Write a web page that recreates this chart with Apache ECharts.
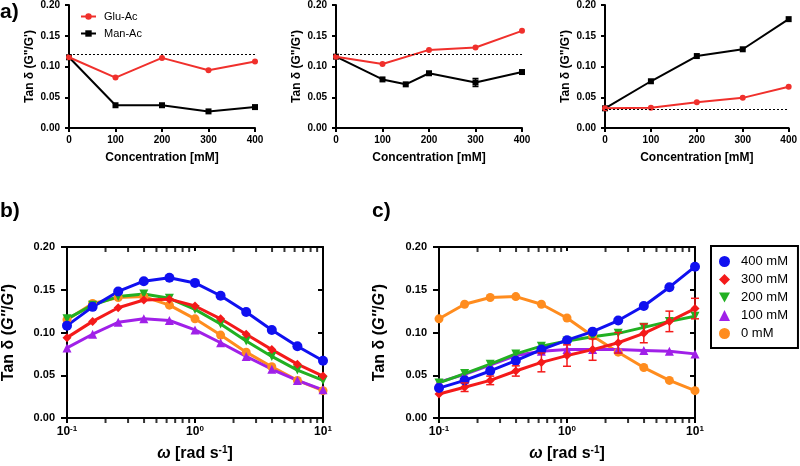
<!DOCTYPE html>
<html>
<head>
<meta charset="utf-8">
<script src="https://cdn.jsdelivr.net/npm/echarts@6/dist/echarts.min.js"></script>
<style>
html,body{margin:0;padding:0;background:#fff;}
#main{width:800px;height:466px;}
</style>
</head>
<body>
<div id="main"></div>
<script>
// ---------- DATA ----------
const concA = [0, 100, 200, 300, 400];
const concA2Man = [0, 100, 150, 200, 300, 400];
const a1Glu = [0.115, 0.082, 0.114, 0.094, 0.108];
const a1Man = [0.115, 0.037, 0.037, 0.027, 0.034];
const a1Ref = 0.115;
const a2Glu = [0.116, 0.104, 0.127, 0.131, 0.158];
const a2Man = [0.116, 0.079, 0.071, 0.089, 0.074, 0.091];
const a2ManErr = [0, 0, 0, 0, 0.0065, 0];
const a2Ref = 0.116;
const a3Glu = [0.032, 0.033, 0.042, 0.049, 0.067];
const a3Man = [0.032, 0.076, 0.117, 0.128, 0.177];
const a3Ref = 0.032;

const omega = [0.1, 0.1585, 0.2512, 0.3981, 0.631, 1, 1.585, 2.512, 3.981, 6.31, 10];
const omegaMinorTicks = [0.2,0.3,0.4,0.5,0.6,0.7,0.8,0.9,2,3,4,5,6,7,8,9];
const yRange = [0, 0.2];

const b400 = [0.108, 0.130, 0.148, 0.160, 0.164, 0.158, 0.143, 0.124, 0.103, 0.084, 0.067];
const b300 = [0.094, 0.113, 0.129, 0.138, 0.139, 0.131, 0.116, 0.098, 0.080, 0.063, 0.049];
const b200 = [0.116, 0.132, 0.142, 0.145, 0.140, 0.127, 0.110, 0.090, 0.072, 0.056, 0.044];
const b100 = [0.082, 0.098, 0.112, 0.116, 0.114, 0.103, 0.088, 0.072, 0.057, 0.044, 0.033];
const b0   = [0.115, 0.134, 0.141, 0.142, 0.132, 0.116, 0.097, 0.077, 0.060, 0.044, 0.032];

const c400 = [0.035, 0.044, 0.055, 0.067, 0.080, 0.091, 0.101, 0.114, 0.131, 0.153, 0.177];
const c300 = [0.028, 0.036, 0.044, 0.055, 0.065, 0.073, 0.080, 0.088, 0.099, 0.113, 0.128];
const c300Err = [0, 0.005, 0.005, 0.006, 0.011, 0.0125, 0.0125, 0.012, 0.011, 0.012, 0.012];
const c200 = [0.041, 0.052, 0.063, 0.075, 0.084, 0.090, 0.095, 0.099, 0.106, 0.113, 0.119];
const c100 = [0.042, 0.051, 0.062, 0.073, 0.078, 0.080, 0.080, 0.080, 0.079, 0.078, 0.075];
const c0   = [0.116, 0.133, 0.141, 0.142, 0.133, 0.117, 0.096, 0.077, 0.059, 0.044, 0.032];

const seriesNames = ['400 mM', '300 mM', '200 mM', '100 mM', '0 mM'];

// ---------- STYLE ----------
const FONT = 'Liberation Sans, Arial, Helvetica, sans-serif';
const RED_A = '#f0302c';
const COL = {'400 mM':'#1010f0', '300 mM':'#f41a1a', '200 mM':'#22b022', '100 mM':'#a020e8', '0 mM':'#ff8c1e'};
const SYM = {'400 mM':'circle', '300 mM':'diamond', '200 mM':'path://M0,0 L10,0 L5,9 Z', '100 mM':'triangle', '0 mM':'circle'};
const SYMSIZE = {'400 mM':10, '300 mM':9, '200 mM':9, '100 mM':9, '0 mM':9};

const charts = echarts.init(document.getElementById('main'), null, {renderer:'canvas'});

const gridsA = [
  {left:69, top:5, width:186, height:123},
  {left:336, top:5, width:186, height:123},
  {left:605, top:5, width:186, height:123}
];
const gridB = {left:67, top:247, width:256, height:171};
const gridC = {left:439, top:247, width:256, height:171};

const lineCol = '#000';
function aX(gi){
  return {type:'value', gridIndex:gi, min:0, max:400, interval:100,
    name:'Concentration [mM]', nameLocation:'middle', nameGap:24,
    nameTextStyle:{fontFamily:FONT, fontWeight:'bold', fontSize:12, color:'#000'},
    axisLine:{show:true, onZero:false, lineStyle:{color:lineCol, width:2}},
    axisTick:{show:true, length:4, lineStyle:{color:lineCol, width:2}},
    axisLabel:{fontFamily:FONT, fontWeight:'bold', fontSize:10, color:'#000', margin:7},
    splitLine:{show:false}};
}
function aY(gi, gap){
  return {type:'value', gridIndex:gi, min:0, max:0.2, interval:0.05,
    name:'Tan δ (G"/G\')', nameLocation:'middle', nameGap:gap, nameRotate:90,
    nameTextStyle:{fontFamily:FONT, fontWeight:'bold', fontSize:12, color:'#000'},
    axisLine:{show:true, lineStyle:{color:lineCol, width:2}},
    axisTick:{show:true, length:4, lineStyle:{color:lineCol, width:2}},
    axisLabel:{fontFamily:FONT, fontWeight:'bold', fontSize:10, color:'#000', margin:9,
      formatter:v=>v.toFixed(2)},
    splitLine:{show:false}};
}
function logLabel(v){
  const e = Math.round(Math.log10(v));
  return '10{s|' + e + '}';
}
function bX(gi){
  return {type:'log', logBase:10, gridIndex:gi, min:0.1, max:10, position:'bottom',
    name:'{i|ω} [rad s{s|-1}]', nameLocation:'middle', nameGap:27,
    nameTextStyle:{fontFamily:FONT, fontWeight:'bold', fontSize:16, color:'#000', lineHeight:18,
      rich:{i:{fontFamily:FONT, fontWeight:'bold', fontStyle:'italic', fontSize:16, lineHeight:18},
            s:{fontFamily:FONT, fontWeight:'bold', fontSize:10, verticalAlign:'top', lineHeight:18}}},
    axisLine:{show:true, onZero:false, lineStyle:{color:lineCol, width:2}},
    axisTick:{show:true, length:5, lineStyle:{color:lineCol, width:2}},
    axisLabel:{fontFamily:FONT, fontWeight:'bold', fontSize:12, color:'#000', margin:7, lineHeight:14,
      formatter:logLabel,
      rich:{s:{fontFamily:FONT, fontWeight:'bold', fontSize:8, verticalAlign:'top', lineHeight:14, color:'#000'}}},
    minorTick:{show:false}, splitLine:{show:false}};
}
function bXTop(gi){
  return {type:'log', logBase:10, gridIndex:gi, min:0.1, max:10, position:'top',
    axisLine:{show:true, onZero:false, lineStyle:{color:lineCol, width:2}},
    axisTick:{show:true, inside:true, length:4, lineStyle:{color:lineCol, width:2}},
    axisLabel:{show:false}, splitLine:{show:false}};
}
function bY(gi, gap){
  return {type:'value', gridIndex:gi, min:0, max:0.2, interval:0.05, position:'left',
    name:'Tan δ ({i|G\'\'}/{i|G\'})', nameLocation:'middle', nameGap:gap, nameRotate:90,
    nameTextStyle:{fontFamily:FONT, fontWeight:'bold', fontSize:16, color:'#000',
      rich:{i:{fontFamily:FONT, fontWeight:'bold', fontStyle:'italic', fontSize:16}}},
    axisLine:{show:true, onZero:false, lineStyle:{color:lineCol, width:2}},
    axisTick:{show:true, length:6, lineStyle:{color:lineCol, width:2}},
    axisLabel:{fontFamily:FONT, fontWeight:'bold', fontSize:11, color:'#000', margin:12,
      formatter:v=>v.toFixed(2)},
    splitLine:{show:false}};
}
function bYRight(gi){
  return {type:'value', gridIndex:gi, min:0, max:0.2, interval:0.05, position:'right',
    axisLine:{show:true, onZero:false, lineStyle:{color:lineCol, width:2}},
    axisTick:{show:true, inside:true, length:5, lineStyle:{color:lineCol, width:2}},
    axisLabel:{show:false}, splitLine:{show:false}};
}

function refLine(v){
  return {silent:true, symbol:['none','none'], label:{show:false},
    lineStyle:{type:[2,2], color:'#000', width:1.2}, data:[{yAxis:v}]};
}
function aSeries(name, xs, ys, idx, color, symbol, ref){
  const s = {type:'line', name:name, xAxisIndex:idx, yAxisIndex:idx,
    data: xs.map((x,i)=>[x, ys[i]]), symbol:symbol, symbolSize:6,
    lineStyle:{color:color, width:2}, itemStyle:{color:color}, z: name==='Glu-Ac'?4:3};
  if (ref !== undefined) s.markLine = refLine(ref);
  return s;
}
function errSeries(xs, ys, es, xi, yi, color, capHalf, lw){
  const data = [];
  xs.forEach((x,i)=>{ if (es[i] > 0) data.push([x, ys[i]-es[i], ys[i]+es[i]]); });
  return {type:'custom', xAxisIndex:xi, yAxisIndex:yi, data:data, z:5, silent:true,
    encode:{x:0, y:[1,2]},
    renderItem:function(params, api){
      const x = api.value(0);
      const lo = api.coord([x, api.value(1)]);
      const hi = api.coord([x, api.value(2)]);
      const st = {stroke:color, lineWidth:lw};
      return {type:'group', children:[
        {type:'line', shape:{x1:lo[0], y1:lo[1], x2:hi[0], y2:hi[1]}, style:st},
        {type:'line', shape:{x1:hi[0]-capHalf, y1:hi[1], x2:hi[0]+capHalf, y2:hi[1]}, style:st},
        {type:'line', shape:{x1:lo[0]-capHalf, y1:lo[1], x2:lo[0]+capHalf, y2:lo[1]}, style:st}
      ]};
    }};
}
// minor log ticks (bottom outward, top inward) positioned through the log axis scale
function minorTickSeries(xi, yi, yVal){
  return {type:'scatter', xAxisIndex:xi, yAxisIndex:yi, clip:false,
    data: omegaMinorTicks.map(v=>[v, yVal]),
    symbol:'rect', symbolSize:[2, 5], symbolOffset:[0, 2.5],
    itemStyle:{color:'#000'}};
}
function omegaSeries(name, ys, xi, yi){
  return {type:'line', name:name, xAxisIndex:xi, yAxisIndex:yi,
    data: omega.map((x,i)=>[x, ys[i]]), symbol:SYM[name], symbolSize:SYMSIZE[name],
    lineStyle:{color:COL[name], width:3}, itemStyle:{color:COL[name]}};
}

const series = [
  minorTickSeries(3, 3, yRange[0]),
  minorTickSeries(3, 3, yRange[1]),
  minorTickSeries(5, 5, yRange[0]),
  minorTickSeries(5, 5, yRange[1]),
  aSeries('Man-Ac', concA, a1Man, 0, '#000', 'rect'),
  aSeries('Glu-Ac', concA, a1Glu, 0, RED_A, 'circle', a1Ref),
  aSeries('Man-Ac', concA2Man, a2Man, 1, '#000', 'rect'),
  aSeries('Glu-Ac', concA, a2Glu, 1, RED_A, 'circle', a2Ref),
  errSeries(concA2Man, a2Man, a2ManErr, 1, 1, '#000', 3, 1.5),
  aSeries('Man-Ac', concA, a3Man, 2, '#000', 'rect'),
  aSeries('Glu-Ac', concA, a3Glu, 2, RED_A, 'circle', a3Ref),
  // panel b (xAxis 3 bottom, yAxis 3 left)
  omegaSeries('0 mM', b0, 3, 3),
  omegaSeries('200 mM', b200, 3, 3),
  omegaSeries('300 mM', b300, 3, 3),
  omegaSeries('100 mM', b100, 3, 3),
  omegaSeries('400 mM', b400, 3, 3),
  // panel c (xAxis 5 bottom, yAxis 5 left)
  omegaSeries('0 mM', c0, 5, 5),
  omegaSeries('100 mM', c100, 5, 5),
  omegaSeries('200 mM', c200, 5, 5),
  omegaSeries('300 mM', c300, 5, 5),
  errSeries(omega, c300, c300Err, 5, 5, COL['300 mM'], 4, 1.5),
  omegaSeries('400 mM', c400, 5, 5)
];

const option = {
  animation:false,
  backgroundColor:'#fff',
  textStyle:{fontFamily:FONT},
  grid:[gridsA[0], gridsA[1], gridsA[2], gridB, gridC],
  xAxis:[aX(0), aX(1), aX(2), bX(3), bXTop(3), bX(4), bXTop(4)],
  yAxis:[aY(0,33), aY(1,33), aY(2,33), bY(3,50), bYRight(3), bY(4,51), bYRight(4)],
  legend:[
    {data:['Glu-Ac','Man-Ac'], orient:'vertical', left:75, top:6, itemWidth:15, itemHeight:8, itemGap:6,
      textStyle:{fontFamily:FONT, fontSize:11, color:'#000', padding:[0,0,0,3]}, selectedMode:false},
    {data: seriesNames.map(n=>({name:n, icon:SYM[n]})), orient:'vertical', left:711, top:246,
      itemWidth:11, itemHeight:11, itemGap:5, padding:[9,10,8,8],
      borderColor:'#000', borderWidth:2, borderRadius:0,
      textStyle:{fontFamily:FONT, fontSize:13, color:'#000', padding:[0,0,0,6]}, selectedMode:false}
  ],
  graphic:[
    {type:'text', left:0, top:2, style:{text:'a)', fontFamily:FONT, fontWeight:'bold', fontSize:21, fill:'#000'}},
    {type:'text', left:0, top:201, style:{text:'b)', fontFamily:FONT, fontWeight:'bold', fontSize:21, fill:'#000'}},
    {type:'text', left:372, top:201, style:{text:'c)', fontFamily:FONT, fontWeight:'bold', fontSize:21, fill:'#000'}}
  ],
  series: series
};
charts.setOption(option);
</script>
</body>
</html>
